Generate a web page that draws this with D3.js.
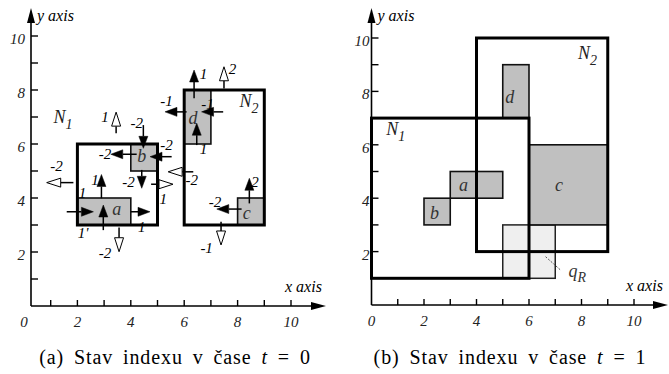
<!DOCTYPE html>
<html>
<head>
<meta charset="utf-8">
<script src="https://cdn.jsdelivr.net/npm/d3@7"></script>
<style>
body { margin: 0; background: #fff; }
svg { display: block; }
</style>
</head>
<body>
<svg id="chart" width="669" height="374"></svg>
<script>
var ticks = [0, 1, 2, 3, 4, 5, 6, 7, 8, 9, 10];
var tickLabels = [0, 2, 4, 6, 8, 10];

// (a) state at t = 0
var nodesA = [
  {sub: "1", x0: 2, x1: 5, y0: 3, y1: 6, lx: 1.46, ly: 6.78},
  {sub: "2", x0: 6, x1: 9, y0: 3, y1: 8, lx: 8.43, ly: 7.37}
];
var objectsA = [
  {name: "a", x0: 2, x1: 4, y0: 3, y1: 4, lx: 3.47, ly: 3.6},
  {name: "b", x0: 4, x1: 5, y0: 5, y1: 6, lx: 4.41, ly: 5.53},
  {name: "c", x0: 8, x1: 9, y0: 3, y1: 4, lx: 8.34, ly: 3.43},
  {name: "d", x0: 6, x1: 7, y0: 6, y1: 8, lx: 6.33, ly: 6.96}
];
// velocity arrows: from, to (tip), hollow?, label, label position
var arrowsA = [
  [1.85, 4.57, 0.85, 4.57, true,  "-2", 1.22, 5.19],
  [3.45, 6.4,  3.45, 7.18, true,  "1",  3.03, 7.0],
  [4.47, 6.7,  4.47, 5.84, false, "-2", 4.22, 6.78],
  [4.22, 5.62, 3.25, 5.62, false, "-2", 3.03, 5.63],
  [5.53, 5.53, 4.72, 5.53, false, "-2", 5.34, 5.96],
  [4.41, 5.04, 4.41, 4.36, false, "-2", 3.91, 4.6],
  [4.76, 4.51, 5.58, 4.51, true,  "1",  5.22, 3.99],
  [2.9,  3.99, 2.9,  4.87, false, "1",  2.66, 4.67],
  [1.6,  3.49, 2.6,  3.49, false, "1",  2.19, 4.2],
  [4.0,  3.49, 4.72, 3.49, false, "1",  4.41, 2.94],
  [2.97, 2.81, 2.97, 3.74, false, "1'", 2.21, 2.7],
  [3.56, 2.91, 3.56, 2.01, true,  "-2", 3.03, 1.96],
  [6.37, 7.69, 6.37, 8.74, false, "1",  6.72, 8.62],
  [7.49, 8.06, 7.49, 8.86, true,  "2",  7.81, 8.8],
  [6.09, 7.19, 5.28, 7.19, false, "-1", 5.34, 7.62],
  [7.46, 7.19, 6.65, 7.19, false, "-1", 6.87, 7.5],
  [6.47, 5.96, 6.47, 6.77, false, "1",  6.72, 5.84],
  [6.34, 4.97, 5.4,  4.97, true,  "-2", 6.28, 4.67],
  [8.15, 3.59, 7.22, 3.59, false, "-2", 7.15, 3.86],
  [8.44, 3.8,  8.44, 4.73, false, "2",  8.65, 4.6],
  [7.38, 3.12, 7.38, 2.26, true,  "-1", 6.84, 2.14]
];

// (b) state at t = 1
var nodesB = [
  {sub: "1", x0: 0, x1: 6, y0: 1, y1: 7, lx: 0.92, ly: 6.37},
  {sub: "2", x0: 4, x1: 9, y0: 2, y1: 10, lx: 8.23, ly: 9.2}
];
var objectsB = [
  {name: "a", x0: 3, x1: 5, y0: 4, y1: 5, lx: 3.5, ly: 4.5},
  {name: "b", x0: 2, x1: 3, y0: 3, y1: 4, lx: 2.4, ly: 3.43},
  {name: "c", x0: 6, x1: 9, y0: 3, y1: 6, lx: 7.14, ly: 4.5},
  {name: "d", x0: 5, x1: 6, y0: 7, y1: 9, lx: 5.27, ly: 7.8}
];
var queryB = {x0: 5, x1: 7, y0: 1, y1: 3, lx: 7.5, ly: 1.06, px0: 6.63, py0: 1.81, px1: 7.2, py1: 1.31};

var captions = [["(a) Stav indexu v čase ", "0"], ["(b) Stav indexu v čase ", "1"]];

var FONT = "'Liberation Serif'";
var svg = d3.select("#chart");

function txt(sel, size, italic) {
  return sel.style("font-family", FONT).style("font-size", size + "px")
    .style("font-style", italic ? "italic" : "normal");
}

function drawPanel(p) {
  var x = d3.scaleLinear().domain([0, 10]).range(p.xr);
  var y = d3.scaleLinear().domain([0, 10]).range(p.yr);
  var g = svg.append("g");
  var ax = p.axisX, ay = y(0);

  // axes
  g.append("line").attr("x1", ax).attr("x2", p.xTip - 10).attr("y1", ay).attr("y2", ay)
    .attr("stroke", "#000").attr("stroke-width", 1.6);
  g.append("line").attr("x1", ax).attr("x2", ax).attr("y1", ay).attr("y2", p.yTip + 10)
    .attr("stroke", "#000").attr("stroke-width", 1.6);
  g.append("path").attr("d", "M" + p.xTip + "," + ay + "L" + (p.xTip - 15) + "," + (ay - 4) + "L" + (p.xTip - 15) + "," + (ay + 4) + "Z");
  g.append("path").attr("d", "M" + ax + "," + p.yTip + "L" + (ax - 4) + "," + (p.yTip + 15) + "L" + (ax + 4) + "," + (p.yTip + 15) + "Z");

  g.selectAll(".xt").data(ticks.slice(1)).enter().append("line")
    .attr("x1", function(d) { return x(d); }).attr("x2", function(d) { return x(d); })
    .attr("y1", ay).attr("y2", ay - 6).attr("stroke", "#000").attr("stroke-width", 1.4);
  g.selectAll(".yt").data(ticks.slice(1)).enter().append("line")
    .attr("x1", ax).attr("x2", ax + 7)
    .attr("y1", function(d) { return y(d); }).attr("y2", function(d) { return y(d); })
    .attr("stroke", "#000").attr("stroke-width", 1.4);

  txt(g.selectAll(".xl").data(tickLabels).enter().append("text"), 15, true)
    .attr("x", function(d) { return x(d); }).attr("y", ay + 21)
    .attr("text-anchor", "middle").attr("fill", "#222")
    .text(function(d) { return d; });
  txt(g.selectAll(".yl").data(tickLabels.slice(1)).enter().append("text"), 15, true)
    .attr("x", ax - p.yLabelGap).attr("y", function(d) { return y(d) + 8; })
    .attr("text-anchor", "end").attr("fill", "#222")
    .text(function(d) { return d; });

  txt(g.append("text"), 16, true).attr("x", ax + 6).attr("y", 21).text("y axis");
  txt(g.append("text"), 16, true).attr("x", p.xTitleX).attr("y", ay - 14).text("x axis");

  function rx(d) { return x(d.x0); }
  function ry(d) { return y(d.y1); }
  function rw(d) { return x(d.x1) - x(d.x0); }
  function rh(d) { return y(d.y0) - y(d.y1); }

  if (p.query) {
    var q = p.query;
    g.append("rect").attr("x", rx(q)).attr("y", ry(q)).attr("width", rw(q)).attr("height", rh(q))
      .attr("fill", "#efefef").attr("stroke", "#222").attr("stroke-width", 1.5);
    g.append("line").attr("x1", x(q.px0)).attr("y1", y(q.py0)).attr("x2", x(q.px1)).attr("y2", y(q.py1))
      .attr("stroke", "#555").attr("stroke-width", 1).attr("stroke-dasharray", "2,1.5");
    var qt = txt(g.append("text"), 18, true).attr("x", x(q.lx)).attr("y", y(q.ly)).attr("fill", "#333");
    qt.append("tspan").text("q");
    qt.append("tspan").attr("dy", 5).style("font-size", "14px").text("R");
  }

  g.selectAll(".obj").data(p.objects).enter().append("rect")
    .attr("x", rx).attr("y", ry).attr("width", rw).attr("height", rh)
    .attr("fill", "#c0c0c0").attr("stroke", "#111").attr("stroke-width", 1.6);

  g.selectAll(".node").data(p.nodes).enter().append("rect")
    .attr("x", rx).attr("y", ry).attr("width", rw).attr("height", rh)
    .attr("fill", "none").attr("stroke", "#000").attr("stroke-width", 3);

  txt(g.selectAll(".objl").data(p.objects).enter().append("text"), 18, true)
    .attr("x", function(d) { return x(d.lx); }).attr("y", function(d) { return y(d.ly); })
    .attr("dy", "0.32em").attr("text-anchor", "middle").attr("fill", "#333")
    .text(function(d) { return d.name; });

  var nl = txt(g.selectAll(".nodel").data(p.nodes).enter().append("text"), 18, true)
    .attr("x", function(d) { return x(d.lx); }).attr("y", function(d) { return y(d.ly); })
    .attr("text-anchor", "middle").attr("fill", "#222");
  nl.append("tspan").text("N");
  nl.append("tspan").attr("dy", 6).style("font-size", "14px").text(function(d) { return d.sub; });

  // arrows
  (p.arrows || []).forEach(function(a) {
    var X1 = x(a[0]), Y1 = y(a[1]), X2 = x(a[2]), Y2 = y(a[3]);
    var dx = X2 - X1, dy = Y2 - Y1, len = Math.sqrt(dx * dx + dy * dy);
    var ux = dx / len, uy = dy / len;
    var L = a[4] ? 14 : 12, w = 4.5;
    var bx = X2 - ux * L, by = Y2 - uy * L;
    g.append("line").attr("x1", X1).attr("y1", Y1).attr("x2", bx).attr("y2", by)
      .attr("stroke", "#000").attr("stroke-width", 1.5);
    g.append("path")
      .attr("d", "M" + X2 + "," + Y2 + "L" + (bx - uy * w) + "," + (by + ux * w) + "L" + (bx + uy * w) + "," + (by - ux * w) + "Z")
      .attr("fill", a[4] ? "#fff" : "#000").attr("stroke", "#000").attr("stroke-width", a[4] ? 1 : 0.5);
    txt(g.append("text"), 15, true).attr("x", x(a[6])).attr("y", y(a[7])).attr("dy", "0.35em")
      .attr("text-anchor", "middle").text(a[5]);
  });

  var cap = txt(g.append("text"), 20, false).attr("x", p.capX).attr("y", 364).attr("text-anchor", "middle")
    .style("word-spacing", "4px").style("letter-spacing", "0.9px");
  cap.append("tspan").text(p.caption[0]);
  cap.append("tspan").style("font-style", "italic").text("t");
  cap.append("tspan").text(" = " + p.caption[1]);
}

drawPanel({xr: [24, 291], yr: [306, 36], axisX: 31, xTip: 326, yTip: 8, yLabelGap: 6, xTitleX: 285,
  nodes: nodesA, objects: objectsA, arrows: arrowsA, caption: captions[0], capX: 175});
drawPanel({xr: [371.5, 634], yr: [305, 38], axisX: 371.5, xTip: 668, yTip: 8, yLabelGap: 2, xTitleX: 626,
  nodes: nodesB, objects: objectsB, query: queryB, caption: captions[1], capX: 510});
</script>
</body>
</html>
